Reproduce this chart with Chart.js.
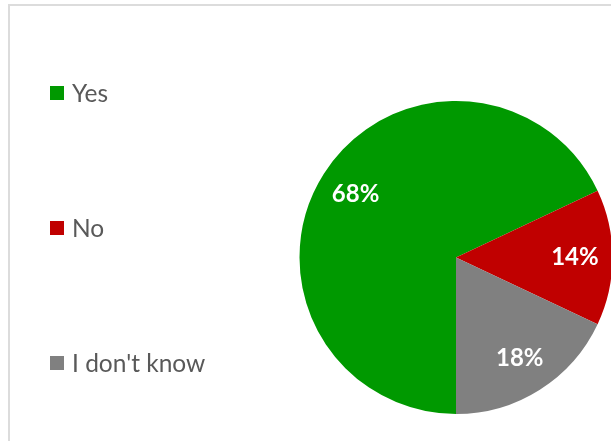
<!DOCTYPE html>
<html>
<head>
<meta charset="utf-8">
<script src="https://cdn.jsdelivr.net/npm/chart.js@4"></script>
<style>
  html, body { margin: 0; padding: 0; background: #fff; overflow: hidden; }
  #wrap { position: relative; width: 611px; height: 441px; overflow: hidden; }
  #frame { position: absolute; left: 8px; top: 4px; width: 700px; height: 500px;
           border-left: 2px solid #dcdcdc; border-top: 2px solid #dcdcdc; }
  #answers { position: absolute; left: 0; top: 0; }
</style>
</head>
<body>
<div id="wrap">
  <div id="frame"></div>
  <canvas id="answers" width="620" height="441"></canvas>
</div>
<script>
var labels = ["Yes", "No", "I don't know"];
var shares = [68, 14, 18];
var colors = ["#009900", "#c00000", "#808080"];

// legend rows (y of each row centre) on the left side
var legendRows = [93, 228, 363];

var pctLabels = {
  id: 'pctLabels',
  afterDatasetsDraw: function(chart) {
    var ctx = chart.ctx;
    var arcs = chart.getDatasetMeta(0).data;
    ctx.save();
    ctx.fillStyle = '#ffffff';
    ctx.font = 'bold 24px Lato';
    ctx.textAlign = 'center';
    ctx.textBaseline = 'middle';
    arcs.forEach(function(arc, i) {
      var p = arc.getProps(['x', 'y', 'startAngle', 'endAngle', 'outerRadius'], true);
      var mid = (p.startAngle + p.endAngle) / 2;
      var r = p.outerRadius * 0.76;
      ctx.fillText(shares[i] + '%', p.x + Math.cos(mid) * r, p.y + Math.sin(mid) * r);
    });
    ctx.restore();
  }
};

var sideLegend = {
  id: 'sideLegend',
  afterDraw: function(chart) {
    var ctx = chart.ctx;
    ctx.save();
    ctx.font = '24.5px Lato';
    ctx.textBaseline = 'middle';
    labels.forEach(function(name, i) {
      var y = legendRows[i];
      ctx.fillStyle = colors[i];
      ctx.fillRect(50, y - 7, 14, 14);
      ctx.fillStyle = '#595959';
      ctx.fillText(name, 72, y + 1);
    });
    ctx.restore();
  }
};

var chart = new Chart(document.getElementById('answers'), {
  type: 'pie',
  data: {
    labels: labels,
    datasets: [{
      data: shares,
      backgroundColor: colors,
      borderWidth: 0
    }]
  },
  options: {
    responsive: false,
    animation: false,
    rotation: 180,
    layout: { padding: { left: 299.5, right: 7.5, top: 101, bottom: 27 } },
    plugins: {
      legend: { display: false },
      tooltip: { enabled: false }
    }
  },
  plugins: [pctLabels, sideLegend]
});
</script>
</body>
</html>
